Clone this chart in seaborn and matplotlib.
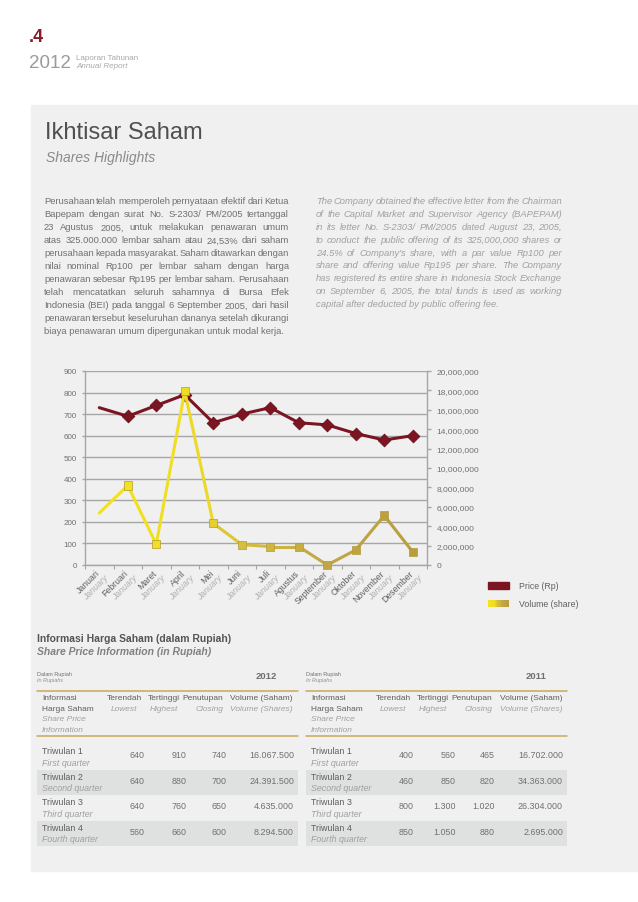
import numpy as np
import matplotlib
matplotlib.use("Agg")
import matplotlib.pyplot as plt
from matplotlib.patches import Rectangle
from matplotlib.transforms import ScaledTranslation
from matplotlib.colors import LinearSegmentedColormap
import seaborn as sns

# -------------------- DATA --------------------
MONTHS_ID = ["Januari", "Februari", "Maret", "April", "Mei", "Juni", "Juli",
             "Agustus", "September", "Oktober", "November", "Desember"]
MONTHS_EN = ["January"] * 12  # the report repeats "January" under every month
PRICE = [730, 690, 740, 790, 660, 700, 730, 660, 650, 610, 580, 600]
VOLUME = [5350000, 8200000, 2150000, 17900000, 4300000, 2100000, 1900000,
          1900000, 0, 1550000, 5100000, 1350000]
PRICE_TICKS = list(range(0, 901, 100))
VOLUME_TICKS = list(range(0, 20000001, 2000000))

QUARTERS_ID = ["Triwulan 1", "Triwulan 2", "Triwulan 3", "Triwulan 4"]
QUARTERS_EN = ["First quarter", "Second quarter", "Third quarter", "Fourth quarter"]
LOW_2012 = [640, 640, 640, 560]
HIGH_2012 = [910, 880, 760, 660]
CLOSE_2012 = [740, 700, 650, 600]
VOL_2012 = [16067500, 24391500, 4635000, 8294500]
LOW_2011 = [400, 460, 800, 850]
HIGH_2011 = [560, 850, 1300, 1050]
CLOSE_2011 = [465, 820, 1020, 880]
VOL_2011 = [16702000, 34363000, 26304000, 2695000]

PARA_ID = [
    "Perusahaan telah memperoleh pernyataan efektif dari Ketua",
    "Bapepam dengan surat No. S-2303/ PM/2005 tertanggal",
    "23 Agustus 2005, untuk melakukan penawaran umum",
    "atas 325.000.000 lembar saham atau 24,53% dari saham",
    "perusahaan kepada masyarakat. Saham ditawarkan dengan",
    "nilai nominal Rp100 per lembar saham dengan harga",
    "penawaran sebesar Rp195 per lembar saham. Perusahaan",
    "telah mencatatkan seluruh sahamnya di Bursa Efek",
    "Indonesia (BEI) pada tanggal 6 September 2005, dari hasil",
    "penawaran tersebut keseluruhan dananya setelah dikurangi",
    "biaya penawaran umum dipergunakan untuk modal kerja.",
]
PARA_EN = [
    "The Company obtained the effective letter from the Chairman",
    "of the Capital Market and Supervisor Agency (BAPEPAM)",
    "in its letter No. S-2303/ PM/2005 dated August 23, 2005,",
    "to conduct the public offering of its 325,000,000 shares or",
    "24.5% of Company's share, with a par value Rp100 per",
    "share and offering value Rp195 per share. The Company",
    "has registered its entire share in Indonesia Stock Exchange",
    "on September 6, 2005, the total funds is used as working",
    "capital after deducted by public offering fee.",
]

# -------------------- STYLE --------------------
W, H = 638, 903
PANEL = "#eff0ef"
BAND = "#dfe0e0"
GOLD = "#c9a95c"
RED = "#7c1522"
GRID = "#a6a6a6"
TXT = "#5e5e5e"
TXT_LIGHT = "#a0a0a0"
gold_cmap = LinearSegmentedColormap.from_list(
    "gold", [(0, "#f4e31a"), (0.3, "#efdc24"), (0.45, "#d6bf3c"),
             (0.7, "#c2a845"), (1, "#b89d3f")])

sns.set_style("white")
plt.rcParams["font.family"] = ["Liberation Sans", "DejaVu Sans"]

fig = plt.figure(figsize=(W / 100, H / 100), dpi=100)
fig.patch.set_facecolor("white")

# page layer in pixel coordinates
page = fig.add_axes([0, 0, 1, 1])
page.set_xlim(0, W)
page.set_ylim(H, 0)
page.axis("off")
page.add_patch(Rectangle((31, 106), W - 31, 766, color=PANEL, zorder=0))

page.text(29, 38, ".4", fontsize=13, weight="bold", color="#8a1a28", va="center")
page.text(29, 63, "2012", fontsize=13.5, color="#9b9b9b", va="center")
page.text(76, 58, "Laporan Tahunan", fontsize=5.8, color="#a8a8a8", va="center")
page.text(76, 67, "Annual Report", fontsize=5.8, color="#a8a8a8", va="center", style="italic")

page.text(45, 133, "Ikhtisar Saham", fontsize=17, color="#505050", va="center")
page.text(46, 158, "Shares Highlights", fontsize=10, color="#8a8a8a", va="center", style="italic")

renderer = fig.canvas.get_renderer()


def justified(lines, x0, x1, y0, step, size, min_gap=1.6, **kw):
    # shrink the size so the tightest line still keeps min_gap between words
    scale = 1.0
    for line in lines[:-1]:
        words = line.split()
        probe = [page.text(0, 0, w, fontsize=size, **kw) for w in words]
        wsum = sum(p.get_window_extent(renderer).width for p in probe)
        for p in probe:
            p.remove()
        scale = min(scale, (x1 - x0 - min_gap * (len(words) - 1)) / wsum)
    size = size * scale
    for n, line in enumerate(lines):
        y = y0 + n * step
        if n == len(lines) - 1:
            page.text(x0, y, line, va="center", fontsize=size, **kw)
            continue
        words = line.split()
        arts = [page.text(x0, y, w, va="center", fontsize=size, **kw) for w in words]
        widths = [a.get_window_extent(renderer).width for a in arts]
        gap = (x1 - x0 - sum(widths)) / (len(words) - 1)
        x = x0
        for a, wd in zip(arts, widths):
            a.set_x(x)
            x += wd + gap


justified(PARA_ID, 44, 289, 202, 13, 7.3, color="#707070")
justified(PARA_EN, 316, 562, 202, 12.8, 7.3, color="#a0a0a0", style="italic")

# -------------------- CHART --------------------
ax = fig.add_axes([85 / W, 1 - 566 / H, 342 / W, 194 / H])
ax.patch.set_alpha(0)
x = np.arange(len(MONTHS_ID))

sns.lineplot(x=x, y=PRICE, ax=ax, color=RED, lw=2.2, zorder=4)
sns.scatterplot(x=x[1:], y=PRICE[1:], ax=ax, marker="D", s=42, color=RED,
                edgecolor="#6a0f1a", linewidth=0.6, zorder=5)
ax.set_xlim(-0.5, len(x) - 0.5)
ax.set_ylim(0, 900)
ax.set_yticks(PRICE_TICKS)
ax.set_xticks(np.arange(-0.5, len(x), 1))
ax.set_xticklabels([])
ax.yaxis.grid(True, color=GRID, lw=1)
ax.xaxis.grid(False)
ax.tick_params(axis="y", length=2.5, width=1, color=GRID, labelsize=5.8,
               labelcolor="#707070", pad=3.5, left=True)
ax.tick_params(axis="x", length=3, width=0.8, color=GRID, bottom=True)
for side in ["top", "right"]:
    ax.spines[side].set_visible(False)
for side in ["left", "bottom"]:
    ax.spines[side].set_color(GRID)
    ax.spines[side].set_linewidth(1)

ax2 = ax.twinx()
seg_cols = [gold_cmap((i + 0.5) / (len(x) - 1)) for i in range(len(x) - 1)]
for i in range(len(x) - 1):
    sns.lineplot(x=x[i:i + 2], y=VOLUME[i:i + 2], ax=ax2, color=seg_cols[i], lw=2.2)
pt_cols = [gold_cmap(i / (len(x) - 1)) for i in x[1:]]
sns.scatterplot(x=x[1:], y=VOLUME[1:], ax=ax2, hue=MONTHS_ID[1:], palette=pt_cols,
                marker="s", s=34, edgecolor="#b39a35", linewidth=0.5, legend=False,
                zorder=5, clip_on=False)
ax2.set_ylim(0, 20000000)
ax2.set_yticks(VOLUME_TICKS)
ax2.set_yticklabels([f"{v:,}" for v in VOLUME_TICKS])
ax2.set_ylabel("")
ax2.tick_params(axis="y", length=3, width=1, color=GRID, labelsize=6,
                labelcolor="#707070", pad=4, right=True)
for side in ["top", "left", "bottom"]:
    ax2.spines[side].set_visible(False)
ax2.spines["right"].set_color(GRID)
ax2.spines["right"].set_linewidth(1)

# two-line rotated month labels
for i, (mid, men) in enumerate(zip(MONTHS_ID, MONTHS_EN)):
    t1 = ax.get_xaxis_transform() + ScaledTranslation(-0.04, -0.03, fig.dpi_scale_trans)
    t2 = ax.get_xaxis_transform() + ScaledTranslation(0.045, -0.075, fig.dpi_scale_trans)
    ax.text(i, 0, mid, transform=t1, rotation=45, rotation_mode="anchor",
            ha="right", va="top", fontsize=6.3, color="#606060")
    ax.text(i, 0, men, transform=t2, rotation=45, rotation_mode="anchor",
            ha="right", va="top", fontsize=6.3, color="#b0b0b0", style="italic")

# legend
page.add_patch(Rectangle((488, 583), 21, 6.5, color=RED, zorder=2))
for k in range(21):
    page.add_patch(Rectangle((488 + k, 601), 1.05, 6.5, color=gold_cmap(k / 20), lw=0, zorder=2))
page.text(519, 586.5, "Price (Rp)", fontsize=6.3, color="#606060", va="center")
page.text(519, 604.5, "Volume (share)", fontsize=6.3, color="#606060", va="center")

# -------------------- TABLES --------------------
page.text(37, 639, "Informasi Harga Saham (dalam Rupiah)", fontsize=7.5, weight="bold",
          color="#555555", va="center")
page.text(37, 652, "Share Price Information (in Rupiah)", fontsize=7.5, weight="bold",
          style="italic", color="#808080", va="center")

TABLE_W = 261
ROW_TOP, ROW_H = 745.5, 25.5
HEADS = [("Terendah", "Lowest", 87, "center"), ("Tertinggi", "Highest", 127, "center"),
         ("Penutupan", "Closing", 186, "right"), ("Volume (Saham)", "Volume (Shares)", 256, "right")]
VAL_X = [108, 150, 189, 257]
FS_HEAD = 6.0
FS = 6.4


def fmt(v):
    return f"{v:,}".replace(",", ".")


def draw_table(x0, year, low, high, close, vol):
    page.text(x0, 675, "Dalam Rupiah", fontsize=4, color="#707070", va="center")
    page.text(x0, 681, "In Rupiahs", fontsize=4, color="#909090", va="center", style="italic")
    page.text(x0 + 240, 677, year, fontsize=6.8, weight="bold", color="#707070",
              ha="right", va="center")
    page.plot([x0, x0 + TABLE_W], [692, 692], color=GOLD, lw=1.1)
    page.plot([x0, x0 + TABLE_W], [737, 737], color=GOLD, lw=1.1)
    page.text(x0 + 5, 699, "Informasi", fontsize=FS_HEAD, color=TXT, va="center")
    page.text(x0 + 5, 709.5, "Harga Saham", fontsize=FS_HEAD, color=TXT, va="center")
    page.text(x0 + 5, 720, "Share Price", fontsize=FS_HEAD, color=TXT_LIGHT, va="center", style="italic")
    page.text(x0 + 5, 730.5, "Information", fontsize=FS_HEAD, color=TXT_LIGHT, va="center", style="italic")
    for top_s, bot_s, cx, ha in HEADS:
        page.text(x0 + cx, 699, top_s, fontsize=FS_HEAD, color=TXT, va="center", ha=ha)
        page.text(x0 + cx, 709.5, bot_s, fontsize=FS_HEAD, color=TXT_LIGHT, va="center",
                  ha=ha, style="italic")
    for i in range(len(QUARTERS_ID)):
        top = ROW_TOP + i * ROW_H
        if i % 2 == 1:
            page.add_patch(Rectangle((x0, top), TABLE_W, ROW_H, color=BAND, lw=0, zorder=1))
        page.text(x0 + 5, top + 6.5, QUARTERS_ID[i], fontsize=FS, color=TXT, va="center")
        page.text(x0 + 5, top + 18, QUARTERS_EN[i], fontsize=FS, color=TXT_LIGHT,
                  va="center", style="italic")
        for cx, vals in zip(VAL_X, [low, high, close, vol]):
            page.text(x0 + cx, top + 10.5, fmt(vals[i]), fontsize=FS, color="#707070",
                      va="center", ha="right")


draw_table(37, "2012", LOW_2012, HIGH_2012, CLOSE_2012, VOL_2012)
draw_table(306, "2011", LOW_2011, HIGH_2011, CLOSE_2011, VOL_2011)

fig.savefig("out.png", dpi=100, facecolor=fig.get_facecolor())
